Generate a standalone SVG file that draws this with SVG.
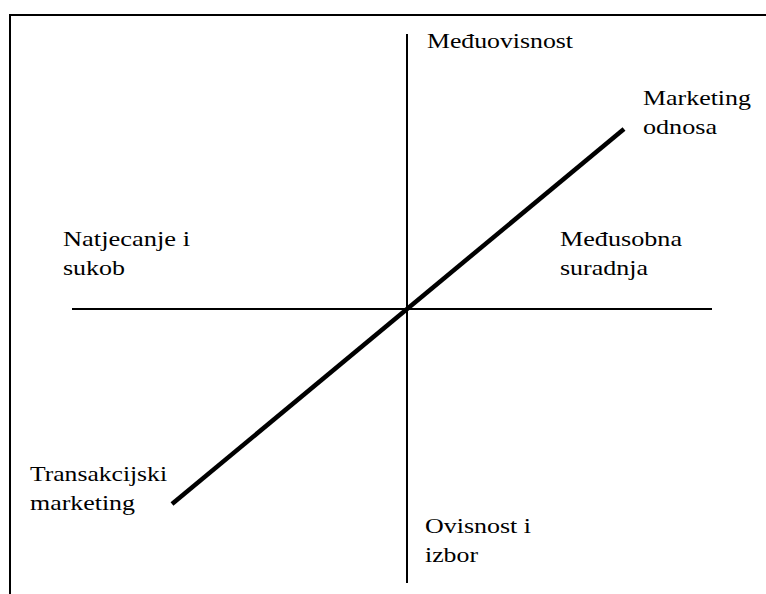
<svg xmlns="http://www.w3.org/2000/svg" width="766" height="594" viewBox="0 0 766 594">
<style>
.lbl{font-size:21.5px;fill:#000}
.ln{stroke:#000;fill:none}
</style>
<rect width="766" height="594" fill="#fff"/>
<g id="frame">
<path class="ln" d="M10 594 V15 H766" stroke-width="2"/>
</g>
<g id="connectors">
<line class="ln" x1="407" y1="34" x2="407" y2="583" stroke-width="2"/>
<line class="ln" x1="72" y1="309" x2="712" y2="309" stroke-width="2"/>
<line class="ln" x1="172" y1="504" x2="624" y2="129" stroke-width="4.5"/>
</g>
<g font-family="'Liberation Serif', 'Times New Roman', 'DejaVu Serif', serif">
<g id="n-meduovisnost"><text class="lbl" x="427" y="48" textLength="146" lengthAdjust="spacingAndGlyphs">Međuovisnost</text></g>
<g id="n-marketing-odnosa"><text class="lbl" x="643" y="105" textLength="108" lengthAdjust="spacingAndGlyphs">Marketing</text><text class="lbl" x="643" y="134" textLength="74" lengthAdjust="spacingAndGlyphs">odnosa</text></g>
<g id="n-natjecanje"><text class="lbl" x="63" y="246" textLength="127" lengthAdjust="spacingAndGlyphs">Natjecanje i</text><text class="lbl" x="63" y="275" textLength="62" lengthAdjust="spacingAndGlyphs">sukob</text></g>
<g id="n-medusobna"><text class="lbl" x="560" y="246" textLength="122" lengthAdjust="spacingAndGlyphs">Međusobna</text><text class="lbl" x="560" y="275" textLength="88" lengthAdjust="spacingAndGlyphs">suradnja</text></g>
<g id="n-transakcijski"><text class="lbl" x="30" y="481" textLength="137" lengthAdjust="spacingAndGlyphs">Transakcijski</text><text class="lbl" x="30" y="510" textLength="105" lengthAdjust="spacingAndGlyphs">marketing</text></g>
<g id="n-ovisnost"><text class="lbl" x="425" y="533" textLength="106" lengthAdjust="spacingAndGlyphs">Ovisnost i</text><text class="lbl" x="425" y="562" textLength="53" lengthAdjust="spacingAndGlyphs">izbor</text></g>
</g>
</svg>
